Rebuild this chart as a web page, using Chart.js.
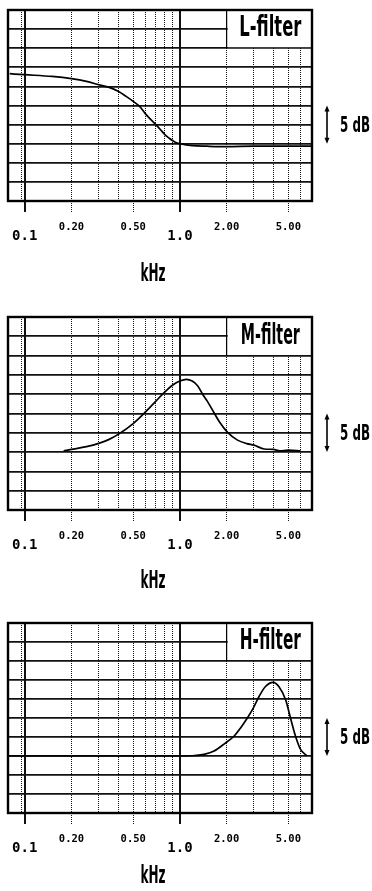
<!DOCTYPE html>
<html><head><meta charset="utf-8">
<script src="https://cdn.jsdelivr.net/npm/chart.js@4.4.1/dist/chart.umd.min.js"></script>
<style>
html,body{margin:0;padding:0;background:#fff;width:372px;height:891px;overflow:hidden}
.p{position:absolute;left:0;width:372px}
canvas{display:block}
</style></head><body>
<div class="p" style="top:0;height:307px"><canvas id="c1"></canvas></div>
<div class="p" style="top:307px;height:306px"><canvas id="c2"></canvas></div>
<div class="p" style="top:613px;height:278px"><canvas id="c3"></canvas></div>
<script>
// ---- data ----
const freqMin = 0.078, freqMax = 7.1;          // kHz
const gainMin = -7.5, gainMax = 17.5, gainStep = 2.5; // dB
const gridFreqs = [0.095, 0.1, 0.2, 0.3, 0.4, 0.5, 0.6, 0.7, 0.8, 0.9, 1, 2, 3, 4, 5, 6];
const solidFreqs = [0.1, 1];
const markedFreqs = [0.1, 0.2, 0.5, 1, 2, 5];
const upperTickValues = [0.2, 0.5, 2, 5];
const upperTickLabels = ['0.20', '0.50', '2.00', '5.00'];
const lowerTickValues = [0.1, 1];
const lowerTickLabels = ['0.1', '1.0'];
const xUnit = 'kHz';
const scaleBarText = '5 dB';
const scaleBarDb = 5;

const filterNames = ['L-filter', 'M-filter', 'H-filter'];

const lFreq = [0.08, 0.1, 0.15, 0.2, 0.25, 0.3, 0.35, 0.4, 0.45, 0.5, 0.55, 0.6, 0.65, 0.7, 0.75, 0.8, 0.85, 0.9, 0.95, 1.0, 1.2, 1.5, 2, 3, 5, 7.1];
const lGain = [9.16, 9.03, 8.8, 8.51, 8.15, 7.72, 7.37, 6.85, 6.19, 5.54, 4.88, 3.9, 3.14, 2.49, 1.83, 1.18, 0.75, 0.39, 0.13, 0.0, -0.26, -0.33, -0.38, -0.33, -0.33, -0.33];

const mFreq = [0.178, 0.2, 0.25, 0.3, 0.35, 0.4, 0.5, 0.6, 0.7, 0.8, 0.9, 1.0, 1.1, 1.2, 1.3, 1.41, 1.5, 1.67, 1.8, 2.03, 2.35, 2.7, 3.0, 3.5, 4.0, 4.4, 5.0, 6.0];
const mGain = [0.17, 0.35, 0.7, 1.13, 1.65, 2.3, 3.7, 5.2, 6.6, 7.8, 8.7, 9.2, 9.42, 9.2, 8.6, 7.4, 6.6, 5.0, 3.9, 2.55, 1.55, 1.1, 0.9, 0.4, 0.35, 0.15, 0.25, 0.15];

const hFreq = [0.078, 0.5, 1.0, 1.2, 1.43, 1.66, 1.97, 2.23, 2.46, 2.72, 2.97, 3.23, 3.56, 3.99, 4.34, 4.8, 5.16, 5.56, 5.99, 6.6];
const hGain = [0, 0, 0, 0.03, 0.22, 0.65, 1.73, 2.6, 3.7, 5.0, 6.3, 7.8, 9.15, 9.7, 9.15, 7.4, 5.0, 2.6, 0.87, 0];

// ---- drawing helpers ----
function fitText(ctx, text, cx, cy, size, width) {
  ctx.save();
  ctx.font = 'bold ' + size + 'px "DejaVu Sans", sans-serif';
  const w = ctx.measureText(text).width;
  ctx.translate(cx, cy);
  ctx.scale(width / w, 1);
  ctx.textAlign = 'center';
  ctx.textBaseline = 'middle';
  ctx.fillStyle = '#000';
  ctx.fillText(text, 0, 0);
  ctx.restore();
}

const decor = {
  id: 'decor',
  afterDraw(chart, args, o) {
    const {ctx, chartArea: a, scales: {x, y}} = chart;
    ctx.save();
    // label box
    const bx = x.getPixelForValue(2);
    const by = y.getPixelForValue(12.5);
    ctx.fillStyle = '#fff';
    ctx.fillRect(bx + 1, a.top + 1, a.right - bx - 2, by - a.top - 2);
    ctx.strokeStyle = '#000';
    ctx.lineWidth = 1.2;
    ctx.beginPath(); ctx.moveTo(bx, a.top); ctx.lineTo(bx, by); ctx.stroke();
    fitText(ctx, o.name, (bx + a.right) / 2 + 1, y.getPixelForValue(15), 28, o.nameW);
    // frame
    ctx.lineWidth = 2.4;
    ctx.strokeRect(a.left, a.top, a.right - a.left, a.bottom - a.top);
    // scale bar
    const ax = a.right + 15;
    const y0 = y.getPixelForValue(0), y5 = y.getPixelForValue(scaleBarDb);
    ctx.lineWidth = 1.6;
    ctx.beginPath(); ctx.moveTo(ax, y5 + 3); ctx.lineTo(ax, y0 - 3); ctx.stroke();
    ctx.fillStyle = '#000';
    ctx.beginPath(); ctx.moveTo(ax, y5); ctx.lineTo(ax - 2.5, y5 + 6); ctx.lineTo(ax + 2.5, y5 + 6); ctx.closePath(); ctx.fill();
    ctx.beginPath(); ctx.moveTo(ax, y0); ctx.lineTo(ax - 2.5, y0 - 6); ctx.lineTo(ax + 2.5, y0 - 6); ctx.closePath(); ctx.fill();
    fitText(ctx, scaleBarText, ax + 28, (y0 + y5) / 2 + 2, 21, 30);
    // unit title
    const x2 = chart.scales.x2;
    fitText(ctx, xUnit, (a.left + a.right) / 2 - 7, x2.bottom - o.unitOff, 24, 25);
    ctx.restore();
  }
};

function isIn(arr, v) { return arr.some(f => Math.abs(f - v) < 1e-6); }

function makeChart(id, name, nameW, freq, gain, x2Height, unitOff) {
  const pts = freq.map((f, i) => ({x: f, y: gain[i]}));
  return new Chart(document.getElementById(id), {
    type: 'line',
    data: {datasets: [{
      label: name, data: pts, borderColor: '#000', borderWidth: 1.7,
      pointRadius: 0, cubicInterpolationMode: 'monotone', fill: false
    }]},
    options: {
      responsive: true, maintainAspectRatio: false, animation: false,
      layout: {padding: {left: 8, right: 60, top: 10, bottom: 0}},
      plugins: {legend: {display: false}, tooltip: {enabled: false}, decor: {name, nameW, unitOff}},
      scales: {
        x: {
          type: 'logarithmic', position: 'bottom', weight: 0, min: freqMin, max: freqMax,
          afterBuildTicks: s => { s.ticks = gridFreqs.map(v => ({value: v})); },
          afterFit: s => { s.height = 29; },
          grid: {
            color: '#111',
            lineWidth: c => isIn(solidFreqs, c.tick.value) ? 2 : 1,
            drawTicks: true, tickLength: 11,
            tickColor: c => isIn(markedFreqs, c.tick.value) ? '#111' : 'rgba(0,0,0,0)',
            tickWidth: c => isIn(solidFreqs, c.tick.value) ? 2 : 1,
            tickBorderDash: c => isIn(solidFreqs, c.tick.value) ? [] : [1, 1]
          },
          border: {display: false, dash: c => (c.tick && !isIn(solidFreqs, c.tick.value)) ? [1, 1] : []},
          ticks: {
            autoSkip: false, maxRotation: 0, padding: 8.5, color: '#000',
            font: {family: '"DejaVu Sans Mono", monospace', size: 10.5, weight: 'bold'},
            callback: v => { const i = upperTickValues.findIndex(t => Math.abs(t - v) < 1e-6); return i >= 0 ? upperTickLabels[i] : ''; }
          }
        },
        x2: {
          type: 'logarithmic', position: 'bottom', weight: 1, min: freqMin, max: freqMax,
          afterBuildTicks: s => { s.ticks = lowerTickValues.map(v => ({value: v})); },
          afterFit: s => { s.height = x2Height; },
          grid: {display: false, drawTicks: false},
          border: {display: false},
          ticks: {
            autoSkip: false, maxRotation: 0, padding: -2, color: '#000',
            font: {family: '"DejaVu Sans Mono", monospace', size: 14, weight: 'bold'},
            callback: v => { const i = lowerTickValues.findIndex(t => Math.abs(t - v) < 1e-6); return i >= 0 ? lowerTickLabels[i] : ''; }
          }
        },
        y: {
          type: 'linear', position: 'left', min: gainMin, max: gainMax,
          afterFit: s => { s.width = 0; },
          ticks: {display: false, stepSize: gainStep},
          grid: {color: '#111', lineWidth: 1.8, drawTicks: false},
          border: {display: false}
        }
      }
    },
    plugins: [decor]
  });
}

makeChart('c1', filterNames[0], 62, lFreq, lGain, 77, 32);
makeChart('c2', filterNames[1], 59, mFreq, mGain, 74, 31);
makeChart('c3', filterNames[2], 61, hFreq, hGain, 49, 14);
</script>
</body></html>
